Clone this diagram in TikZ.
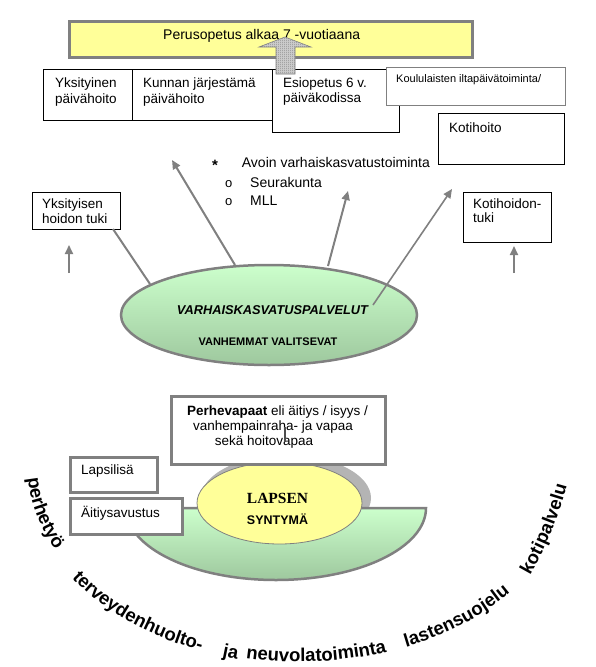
\documentclass[tikz,border=0pt]{standalone}
\usepackage{fontspec}
\setmainfont{Liberation Sans}
\newfontfamily\serifface{Liberation Serif}
\usetikzlibrary{shapes.geometric,arrows.meta,decorations.text,patterns,fit}
\definecolor{boxgray}{RGB}{128,128,128}
\definecolor{paleyellow}{RGB}{255,255,153}
\definecolor{lightgreen}{RGB}{204,255,204}
\definecolor{darkgreen}{RGB}{158,200,158}
\definecolor{shadowgray}{RGB}{180,180,180}
\newcommand\fsz[1]{\fontsize{#1}{#1}\selectfont}
\pgfdeclarepatternformonly{finedots}{\pgfqpoint{-0.5pt}{-0.5pt}}{\pgfqpoint{2.5pt}{2.5pt}}{\pgfqpoint{2pt}{2pt}}{%
  \pgfpathcircle{\pgfqpoint{0pt}{0pt}}{0.55pt}%
  \pgfpathcircle{\pgfqpoint{1pt}{1pt}}{0.55pt}%
  \pgfusepath{fill}}
\begin{document}
\begin{tikzpicture}[x=1pt,y=1pt,
  thinbox/.style={draw=black, line width=0.9pt, fill=white, inner sep=0pt},
  graybox/.style={draw=boxgray, line width=0.9pt, fill=white, inner sep=0pt},
  thickbox/.style={draw=boxgray, line width=3pt, fill=white, inner sep=0pt},
  lbl/.style={anchor=base west, inner sep=0pt, font=\fsz{13.5}},
  clbl/.style={anchor=base, inner sep=0pt},
  garrow/.style={draw=boxgray, line width=2pt, -{Triangle[length=9pt,width=8pt]}},
  gline/.style={draw=boxgray, line width=2pt},
  curvetext/.style={decorate, decoration={text along path, text={|\fsz{18.5}\bfseries|#1}}},
]
\path[use as bounding box] (0,0) rectangle (596,-667);

% ---- top yellow box
\node[thickbox, fill=paleyellow, fit={(69.5,-21.5)(472.5,-57.5)}] (peru) {};
\node[lbl, font=\fsz{14}] (perut) at (163,-39) {Perusopetus alkaa 7 -vuotiaana};

% ---- row of boxes
\node[thinbox, fit={(43.5,-69.5)(132,-120)}] (yk) {};
\node[thinbox, fit={(132,-69.5)(272,-120)}] (ku) {};
\node[thinbox, fit={(272,-69.5)(399,-132)}] (es) {};
\node[graybox, fit={(386,-67)(565,-105)}] (ko) {};
\node[thinbox, fit={(438,-113)(564,-164)}] (kh) {};
\node[thinbox, fit={(32,-192)(120,-229)}] (yt) {};
\node[thinbox, fit={(463,-192)(551.5,-242)}] (kt) {};

\node[lbl] (yka) at (55,-87) {Yksityinen};
\node[lbl] (ykb) at (55,-103) {päivähoito};
\node[lbl] (kua) at (143,-87) {Kunnan järjestämä};
\node[lbl] (kub) at (143,-103) {päivähoito};
\node[lbl] (esa) at (283,-87) {Esiopetus 6 v.};
\node[lbl] (esb) at (283,-102) {päiväkodissa};
\node[lbl, font=\fsz{11}] (koa) at (396,-82) {Koululaisten iltapäivätoiminta/};
\node[lbl] (kha) at (449,-132) {Kotihoito};
\node[lbl] (yta) at (42,-208) {Yksityisen};
\node[lbl] (ytb) at (42,-223) {hoidon tuki};
\node[lbl] (kta) at (473,-208) {Kotihoidon-};
\node[lbl] (ktb) at (473,-222) {tuki};

% ---- dotted block arrow
\path[draw=boxgray, line width=0.6pt, preaction={fill=white}, pattern=finedots, pattern color=black!55]
  (276,-74) -- (276,-47) -- (259,-47) -- (285,-37) -- (311,-47) -- (295,-47) -- (295,-74) -- cycle;

% ---- bullet list
\node[lbl, font=\fsz{15}\bfseries] (star) at (212,-170) {*};
\node[lbl, font=\fsz{14}] (av) at (241.7,-167) {Avoin varhaiskasvatustoiminta};
\node[lbl, font=\fsz{13}] (o1) at (225,-187) {o};
\node[lbl, font=\fsz{14}] (se) at (250,-187) {Seurakunta};
\node[lbl, font=\fsz{13}] (o2) at (225,-205) {o};
\node[lbl, font=\fsz{14}] (ml) at (250,-205) {MLL};

% ---- green ellipse
\node[ellipse, draw=boxgray, line width=2.5pt, top color=lightgreen, bottom color=darkgreen,
  minimum width=296pt, minimum height=100pt, inner sep=0pt] (vk) at (269,-315) {};
\node[clbl, font=\fsz{12.8}\bfseries\itshape] (vkt) at (272.5,-314) {VARHAISKASVATUSPALVELUT};
\node[clbl, font=\fsz{11}\bfseries] (vkv) at (268,-345.5) {VANHEMMAT VALITSEVAT};

% ---- arrows
\coordinate (a1s) at (235,-265); \coordinate (a1e) at (172,-160);
\coordinate (a2s) at (328,-266); \coordinate (a2e) at (348,-191);
\coordinate (a3s) at (373,-305); \coordinate (a3e) at (452,-189);
\coordinate (l1s) at (113,-229); \coordinate (l1e) at (150,-284);
\coordinate (s1s) at (69,-273);  \coordinate (s1e) at (69,-245);
\coordinate (s2s) at (514,-273); \coordinate (s2e) at (514,-246);
\draw[garrow] (a1s) -- (a1e);
\draw[garrow] (a2s) -- (a2e);
\draw[garrow, line width=1.6pt] (a3s) -- (a3e);
\draw[gline] (l1s) -- (l1e);
\draw[garrow] (s1s) -- (s1e);
\draw[garrow] (s2s) -- (s2e);

% ---- bottom group
\node[ellipse, fill=shadowgray, minimum width=170pt, minimum height=86pt, inner sep=0pt] (sh) at (286,-498) {};
\path[draw=boxgray, line width=2.5pt, top color=lightgreen, bottom color=darkgreen]
  (426,-508) arc[start angle=0, end angle=-180, x radius=150, y radius=72] -- cycle;
\node[ellipse, draw=boxgray, line width=0.8pt, fill=paleyellow, minimum width=165pt, minimum height=82pt, inner sep=0pt] (ls) at (279.5,-503) {};
\node[clbl, font=\serifface\fsz{15.5}\bfseries] (lsa) at (277.5,-503) {LAPSEN};
\node[clbl, font=\fsz{12.5}\bfseries] (lsb) at (277.5,-524) {SYNTYMÄ};

\node[thickbox, fit={(171.5,-396.5)(385.5,-464.5)}] (pv) {};
\node[clbl, font=\fsz{13.5}] (pva) at (277.5,-415) {\textbf{Perhevapaat} eli äitiys / isyys /};
\node[clbl, font=\fsz{13.5}] (pvb) at (273,-430) {vanhempainraha- ja vapaa};
\node[clbl, font=\fsz{13.5}] (pvc) at (264,-445) {sekä hoitovapaa};
\coordinate (pl1) at (285,-427); \coordinate (pl2) at (285,-442);
\draw[draw=boxgray!60!black, line width=1.5pt] (pl1) -- (pl2);

\node[thickbox, fit={(70.5,-457.5)(157.5,-492.5)}] (la) {};
\node[thickbox, fit={(70.5,-498.5)(182.5,-534.5)}] (ai) {};
\node[lbl] (lat) at (81,-474) {Lapsilisä};
\node[lbl] (ait) at (81,-517) {Äitiysavustus};

% ---- curved text
\path[curvetext={perhetyö}] (28,-478) arc[start angle=184, end angle=230, x radius=275, y radius=195];
\path[curvetext={terveydenhuolto-}] (72,-578) arc[start angle=214, end angle=262, x radius=275, y radius=195];
\path[curvetext={ja}] (222,-656) arc[start angle=253.5, end angle=266, x radius=275, y radius=195];
\path[curvetext={neuvolatoiminta}] (246,-658) arc[start angle=258.7, end angle=300, x radius=275, y radius=195];
\path[curvetext={lastensuojelu}] (406,-647) arc[start angle=292.7, end angle=335, x radius=275, y radius=195];
\path[curvetext={kotipalvelu}] (530,-575) arc[start angle=330, end angle=360, radius=370];
\end{tikzpicture}
\end{document}
